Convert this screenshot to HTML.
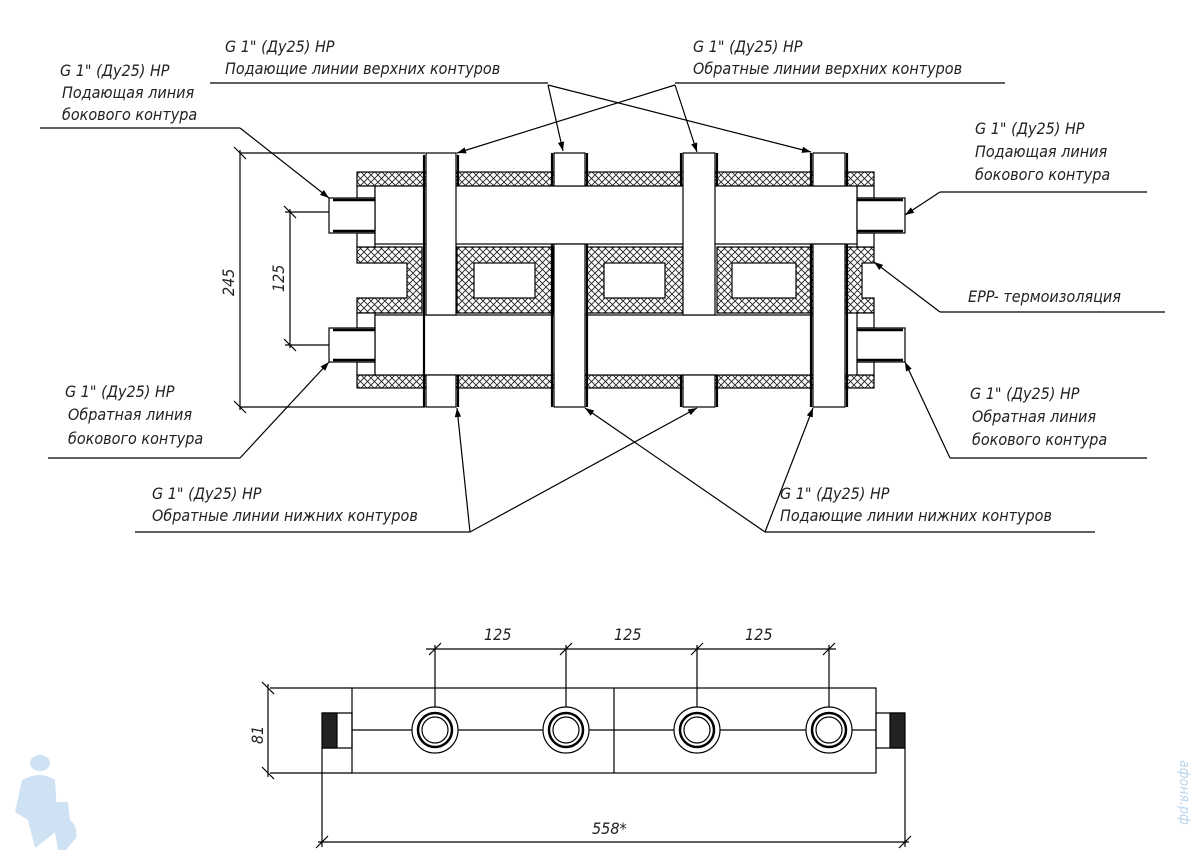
<!DOCTYPE html>
<html><head><meta charset="utf-8"><style>
html,body{margin:0;padding:0;background:#fff;}
svg{display:block;}
text{font-family:"DejaVu Sans Condensed","Liberation Sans Narrow","Liberation Sans",sans-serif;font-style:italic;font-size:16px;fill:#222;font-weight:300;}
</style></head><body>
<svg width="1197" height="865" viewBox="0 0 1197 865" xmlns="http://www.w3.org/2000/svg">
<defs>
<pattern id="h" width="7" height="7" patternUnits="userSpaceOnUse">
<rect width="7" height="7" fill="#fff"/>
<path d="M0,0L7,7M7,0L0,7" stroke="#222" stroke-width="0.9"/>
</pattern>
<marker id="a" viewBox="0 0 10 10" refX="10" refY="5" markerWidth="18" markerHeight="9" orient="auto" markerUnits="userSpaceOnUse">
<path d="M0,1.5L10,5L0,8.5z" fill="#000"/>
</marker>
</defs>
<g stroke="#000" stroke-width="1.2" fill="none">
<rect x="357" y="172" width="517" height="14" fill="url(#h)"/>
<rect x="357" y="375" width="517" height="13" fill="url(#h)"/>
<path d="M357,247H422V313H357V298H407V263H357Z" fill="url(#h)"/>
<rect x="457" y="247" width="96" height="66" fill="url(#h)"/>
<rect x="474" y="263" width="61" height="35" fill="#fff"/>
<rect x="587" y="247" width="96" height="66" fill="url(#h)"/>
<rect x="604" y="263" width="61" height="35" fill="#fff"/>
<rect x="717" y="247" width="96" height="66" fill="url(#h)"/>
<rect x="732" y="263" width="64" height="35" fill="#fff"/>
<path d="M845,247H874V263H862V298H874V313H845Z" fill="url(#h)"/>
<rect x="357" y="186" width="18" height="12" fill="#fff"/>
<rect x="357" y="233" width="18" height="14" fill="#fff"/>
<rect x="357" y="313" width="18" height="15" fill="#fff"/>
<rect x="357" y="362" width="18" height="13" fill="#fff"/>
<rect x="857" y="186" width="17" height="12" fill="#fff"/>
<rect x="857" y="233" width="17" height="14" fill="#fff"/>
<rect x="857" y="313" width="17" height="15" fill="#fff"/>
<rect x="857" y="362" width="17" height="13" fill="#fff"/>
<rect x="375" y="186" width="482" height="58" fill="#fff"/>
<rect x="375" y="315" width="438" height="60" fill="#fff"/>
<rect x="329" y="198" width="46" height="35" fill="#fff"/>
<rect x="329" y="328" width="46" height="34" fill="#fff"/>
<rect x="857" y="198" width="48" height="35" fill="#fff"/>
<rect x="857" y="328" width="48" height="34" fill="#fff"/>
<g stroke-width="2.5"><path d="M333,200H375M333,231H375M333,330H375M333,360H375M857,200H903M857,231H903M857,330H903M857,360H903"/></g>
<rect x="426" y="153" width="30" height="162" fill="#fff"/>
<rect x="426" y="375" width="30" height="32" fill="#fff"/>
<rect x="554" y="153" width="31" height="33" fill="#fff"/>
<rect x="554" y="244" width="31" height="163" fill="#fff"/>
<rect x="683" y="153" width="32" height="162" fill="#fff"/>
<rect x="683" y="375" width="32" height="32" fill="#fff"/>
<rect x="813" y="153" width="32" height="33" fill="#fff"/>
<rect x="813" y="244" width="32" height="163" fill="#fff"/>
<g stroke-width="2.2"><path d="M424,155V407M458,155V186M458,375V407M552,153V186M552,244V407M587,153V186M587,244V407M681,153V186M681,375V407M717,153V186M717,375V407M811,153V186M811,244V407M847,153V186M847,244V407"/></g>
<path d="M240,153H425M240,407H425M240,150V410M234,147L246,159M234,401L246,413"/>
<path d="M285,212H329M285,345H329M290,209V348M284,206L296,218M284,339L296,351"/>
<path d="M210,83H548"/>
<path d="M548,85L563,151" marker-end="url(#a)"/>
<path d="M548,85L811,152" marker-end="url(#a)"/>
<path d="M675,83H1005"/>
<path d="M675,85L457,153" marker-end="url(#a)"/>
<path d="M675,85L697,152" marker-end="url(#a)"/>
<path d="M40,128H240"/><path d="M240,128L329,198" marker-end="url(#a)"/>
<path d="M940,192H1147"/><path d="M940,192L905,215" marker-end="url(#a)"/>
<path d="M940,312H1165"/><path d="M940,312L874,262" marker-end="url(#a)"/>
<path d="M48,458H240"/><path d="M240,458L329,362" marker-end="url(#a)"/>
<path d="M950,458H1147"/><path d="M950,458L905,362" marker-end="url(#a)"/>
<path d="M135,532H470"/><path d="M470,532L457,408" marker-end="url(#a)"/><path d="M470,532L697,408" marker-end="url(#a)"/>
<path d="M765,532H1095"/><path d="M765,532L585,408" marker-end="url(#a)"/><path d="M765,532L813,408" marker-end="url(#a)"/>
<rect x="352" y="688" width="524" height="85"/>
<path d="M614,688V773M352,730H876M322,713H352V748H322M905,713H876V748H905"/>
<rect x="322" y="713" width="15" height="35" fill="#222"/>
<rect x="890" y="713" width="15" height="35" fill="#222"/>
<path d="M270,688H352M270,773H352M268,684V777M262,682L274,694M262,767L274,779"/>
<path d="M322,748V847M905,748V847M318,842H909M316,848L328,836M899,848L911,836"/>
<path d="M426,649H836M435,645V730M566,645V730M697,645V730M829,645V730M429,655L441,643M560,655L572,643M691,655L703,643M823,655L835,643"/>
<g fill="#fff">
<circle cx="435" cy="730" r="23"/><circle cx="435" cy="730" r="17" stroke-width="2.5"/><circle cx="435" cy="730" r="13"/>
<circle cx="566" cy="730" r="23"/><circle cx="566" cy="730" r="17" stroke-width="2.5"/><circle cx="566" cy="730" r="13"/>
<circle cx="697" cy="730" r="23"/><circle cx="697" cy="730" r="17" stroke-width="2.5"/><circle cx="697" cy="730" r="13"/>
<circle cx="829" cy="730" r="23"/><circle cx="829" cy="730" r="17" stroke-width="2.5"/><circle cx="829" cy="730" r="13"/>
</g>
</g>
<text x="225" y="52">G 1" (Ду25) НР</text>
<text x="225" y="74">Подающие линии верхних контуров</text>
<text x="693" y="52">G 1" (Ду25) НР</text>
<text x="693" y="74">Обратные линии верхних контуров</text>
<text x="60" y="76">G 1" (Ду25) НР</text>
<text x="62" y="98">Подающая линия</text>
<text x="62" y="120">бокового контура</text>
<text x="975" y="134">G 1" (Ду25) НР</text>
<text x="975" y="157">Подающая линия</text>
<text x="975" y="180">бокового контура</text>
<text x="968" y="302">EPP- термоизоляция</text>
<text x="65" y="397">G 1" (Ду25) НР</text>
<text x="68" y="420">Обратная линия</text>
<text x="68" y="444">бокового контура</text>
<text x="970" y="399">G 1" (Ду25) НР</text>
<text x="972" y="422">Обратная линия</text>
<text x="972" y="445">бокового контура</text>
<text x="152" y="499">G 1" (Ду25) НР</text>
<text x="152" y="521">Обратные линии нижних контуров</text>
<text x="780" y="499">G 1" (Ду25) НР</text>
<text x="780" y="521">Подающие линии нижних контуров</text>
<text transform="translate(234,296) rotate(-90)">245</text>
<text transform="translate(284,292) rotate(-90)">125</text>
<text x="484" y="640">125</text>
<text x="614" y="640">125</text>
<text x="745" y="640">125</text>
<text transform="translate(263,744) rotate(-90)">81</text>
<text x="592" y="834">558*</text>
<text transform="translate(1180,760) rotate(90)" style="fill:#b8d4ec;font-size:14px">афоня.рф</text>
<g fill="#cfe2f3">
<ellipse cx="40" cy="763" rx="10" ry="8"/>
<path d="M22,780Q40,770 55,780L58,830L35,848L28,820L15,812Z"/>
<path d="M50,802H68L70,820Q78,826 76,838L66,850H58Z"/>
</g>
</svg>
</body></html>
